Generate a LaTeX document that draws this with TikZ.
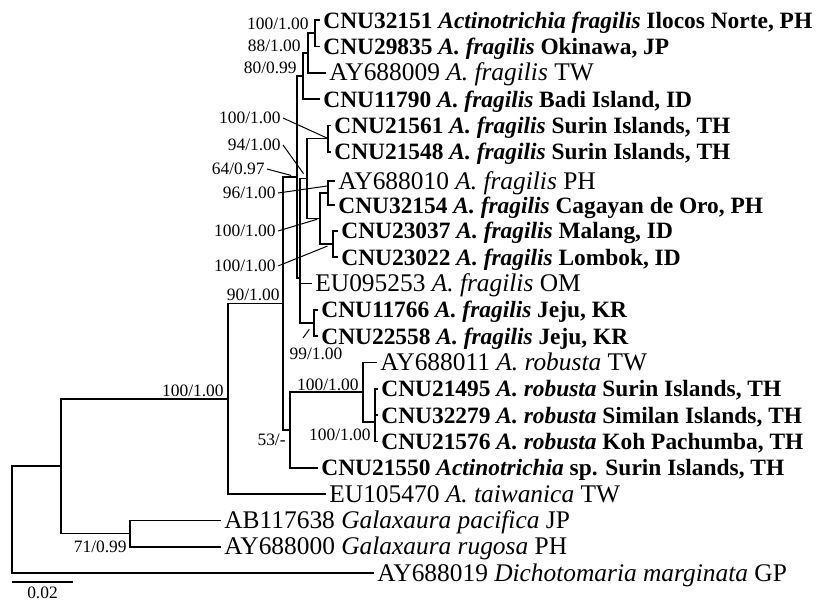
\documentclass[tikz,border=0pt]{standalone}
\usepackage{fontspec}
\setmainfont{Liberation Serif}
\usetikzlibrary{calc,positioning}
\tikzset{
    rama/.style={
        line width=0.8pt          % trazo de las ramas del árbol
    },
    guia/.style={
        line width=0.5pt          % línea fina que lleva el soporte hasta su nodo
    },
    hoja/.style={
        anchor=west,              % el texto empieza justo donde termina la rama
        inner xsep=1.5pt,
        inner ysep=0pt,
        text height=8pt,          % caja fija → la rama llega a media altura
        text depth=0pt,
        font=\fontsize{12.7}{14}\selectfont
    },
    hojab/.style={
        hoja,
        font=\fontsize{11.7}{13}\selectfont\bfseries % secuencias nuevas en negrita
    },
    soporte/.style={
        font=\fontsize{8.7}{10}\selectfont, % bootstrap / probabilidad posterior
        inner sep=1pt
    }
}

\begin{document}
\begin{tikzpicture}[x=0.5pt, y=-0.5pt]
\useasboundingbox (0,0) rectangle (817,600);

\node[hojab] (l1) at (320,20) {CNU32151 \textit{Actinotrichia fragilis} Ilocos Norte, PH};
\node[hojab] (l2) at (320,46.3) {CNU29835 \textit{A. fragilis} Okinawa, JP};
\node[hoja] (l3) at (326,72.7) {AY688009 \textit{A. fragilis} TW};
\node[hojab] (l4) at (320,99) {CNU11790 \textit{A. fragilis} Badi Island, ID};
\node[hojab] (l5) at (331,125.3) {CNU21561 \textit{A. fragilis} Surin Islands, TH};
\node[hojab] (l6) at (331,151.7) {CNU21548 \textit{A. fragilis} Surin Islands, TH};
\node[hoja] (l7) at (335,181) {AY688010 \textit{A. fragilis} PH};
\node[hojab] (l8) at (335,205) {CNU32154 \textit{A. fragilis} Cagayan de Oro, PH};
\node[hojab] (l9) at (338,230.7) {CNU23037 \textit{A. fragilis} Malang, ID};
\node[hojab] (l10) at (338,257) {CNU23022 \textit{A. fragilis} Lombok, ID};
\node[hoja] (l11) at (312,283.3) {EU095253 \textit{A. fragilis} OM};
\node[hojab] (l12) at (318,309.7) {CNU11766 \textit{A. fragilis} Jeju, KR};
\node[hojab] (l13) at (318,336) {CNU22558 \textit{A. fragilis} Jeju, KR};
\node[hoja] (l14) at (377,362.3) {AY688011 \textit{A. robusta} TW};
\node[hojab] (l15) at (378,388.7) {CNU21495 \textit{A. robusta} Surin Islands, TH};
\node[hojab] (l16) at (378,415) {CNU32279 \textit{A. robusta} Similan Islands, TH};
\node[hojab] (l17) at (378,441.3) {CNU21576 \textit{A. robusta} Koh Pachumba, TH};
\node[hojab] (l18) at (318,467.7) {CNU21550 \textit{Actinotrichia} sp. Surin Islands, TH};
\node[hoja] (l19) at (326,494) {EU105470 \textit{A. taiwanica} TW};
\node[hoja] (l20) at (221,520.3) {AB117638 \textit{Galaxaura pacifica} JP};
\node[hoja] (l21) at (221,546.7) {AY688000 \textit{Galaxaura rugosa} PH};
\node[hoja] (l22) at (374,573) {AY688019 \textit{Dichotomaria marginata} GP};

\coordinate (raiz) at (12,519.5);
\coordinate (nA) at (61,466);
\coordinate (nGal) at (130,533.5);
\coordinate (nB) at (228,399);
\coordinate (nC) at (283,303.5);
\coordinate (nE) at (297,177);
\coordinate (nX) at (300,278);
\coordinate (nD) at (290,430);
\coordinate (nR1) at (363,392);
\coordinate (nR2) at (375,422);
\coordinate (n80) at (303,76);
\coordinate (n88) at (308,53);
\coordinate (n100a) at (315,33.2);
\coordinate (n94) at (307,178.5);
\coordinate (n100b) at (328,138.5);
\coordinate (nH) at (320,218.4);
\coordinate (n96) at (328,193);
\coordinate (n100c) at (333,243.8);
\coordinate (n99) at (314,322.8);

\draw[rama] (raiz) |- (nA) (raiz) |- (l22.west);
\draw[rama] (nA) |- (nB) (nA) |- (nGal);
\draw[rama] (nGal) |- (l20.west) (nGal) |- (l21.west);
\draw[rama] (nB) |- (nC) (nB) |- (l19.west);
\draw[rama] (nC) |- (nE) (nC) |- (nD);
\draw[rama] (nD) |- (nR1) (nD) |- (l18.west);
\draw[rama] (nR1) |- (l14.west) (nR1) |- (nR2);
\draw[rama] (nR2) |- (l15.west) (nR2) |- (l16.west) (nR2) |- (l17.west);
\draw[rama] (nE) |- (n80) (nE) |- (nX);
\draw[rama] (nX) |- (n94) (nX) |- (l11.west) (nX) |- (n99);
\draw[rama] (n80) |- (n88) (n80) |- (l4.west);
\draw[rama] (n88) |- (n100a) (n88) |- (l3.west);
\draw[rama] (n100a) |- (l1.west) (n100a) |- (l2.west);
\draw[rama] (n94) |- (n100b) (n94) |- (nH);
\draw[rama] (n100b) |- (l5.west) (n100b) |- (l6.west);
\draw[rama] (nH) |- (n96) (nH) |- (n100c);
\draw[rama] (n96) |- (l7.west) (n96) |- (l8.west);
\draw[rama] (n100c) |- (l9.west) (n100c) |- (l10.west);
\draw[rama] (n99) |- (l12.west) (n99) |- (l13.west);

\node[soporte, anchor=east] (s1) at (311,24) {100/1.00};
\node[soporte, anchor=east] (s2) at (303,46) {88/1.00};
\node[soporte, anchor=east] (s3) at (299,68) {80/0.99};
\node[soporte, anchor=east] (s4) at (283,118) {100/1.00};
\node[soporte, anchor=east] (s5) at (283,145) {94/1.00};
\node[soporte, anchor=east] (s6) at (267,169) {64/0.97};
\node[soporte, anchor=east] (s7) at (278,193) {96/1.00};
\node[soporte, anchor=east] (s8) at (278,231) {100/1.00};
\node[soporte, anchor=east] (s9) at (278,266) {100/1.00};
\node[soporte, anchor=south east] (s10) at (282,303) {90/1.00};
\node[soporte, anchor=south east] (s11) at (226,399) {100/1.00};
\node[soporte, anchor=east] (s12) at (129,547) {71/0.99};
\node[soporte, anchor=east] (s13) at (288,440) {53/-};
\node[soporte] (s14) at (316,354) {99/1.00};
\node[soporte, anchor=south east] (s15) at (361,393) {100/1.00};
\node[soporte, anchor=east] (s16) at (373,435) {100/1.00};

\draw[guia] (s4.east) -- (n100b);
\draw[guia, shorten >=3pt] (s5.east) -- (n94);
\draw[guia, shorten >=3pt] (s6.east) -- (nE);
\draw[guia] (s7.east) -- ($(n96)+(-1,-7)$);
\draw[guia, shorten >=1.5pt] (s8.east) -- (nH);
\draw[guia, shorten >=3pt] (s9.east) -- (n100c);
\coordinate (g99) at (303,338);
\draw[guia, shorten >=4pt] (g99) -- (n99);

\coordinate (e0) at (12,582);
\coordinate (e1) at (73,582);
\draw[rama] (e0) -- (e1) node[soporte, midway, below=1pt] (escala) {0.02};
\end{tikzpicture}
\end{document}
